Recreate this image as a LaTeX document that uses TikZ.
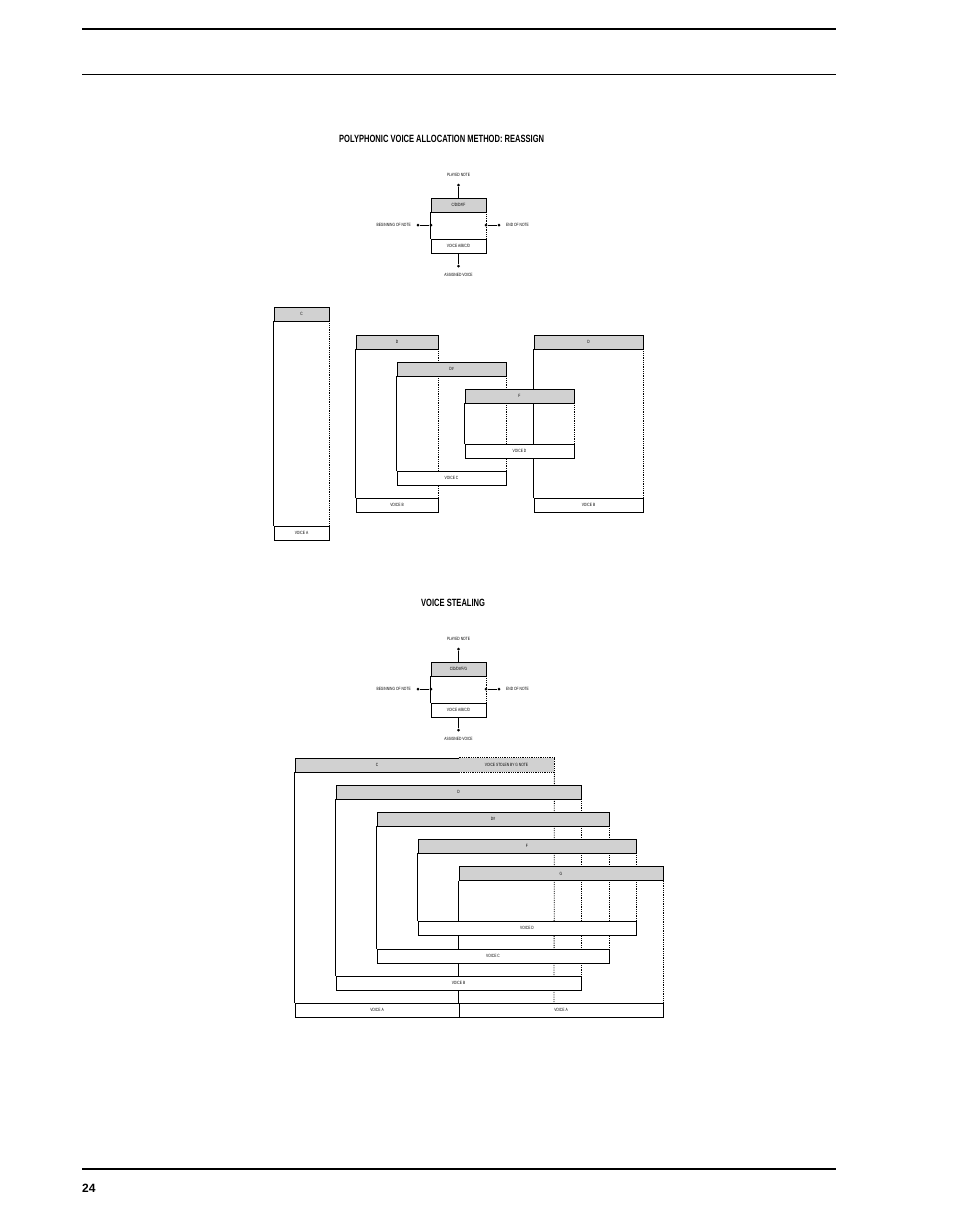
\documentclass[tikz,border=0pt]{standalone}
\usepackage{fontspec}
\setmainfont{Liberation Sans}
\newfontfamily\cond[FakeStretch=0.72]{Liberation Sans}
\usetikzlibrary{backgrounds}
\tikzset{
 hdr/.style={draw,line width=0.8pt,fill=black!18,inner sep=0pt,minimum height=14pt,font=\cond\fontsize{4.6}{5}\selectfont},
 ftr/.style={draw,line width=0.8pt,fill=white,inner sep=0pt,minimum height=14pt,font=\cond\fontsize{4.6}{5}\selectfont},
 lbl/.style={inner sep=0pt,font=\cond\fontsize{4.6}{5}\selectfont},
 solidln/.style={line width=0.8pt},
 dotln/.style={line width=0.8pt,densely dotted},
 dot/.style={circle,fill=black,inner sep=0pt,minimum size=3pt},
 ttl/.style={inner sep=0pt,font=\cond\bfseries\fontsize{10.5}{12}\selectfont}
}
\newcommand\nbx[7]{%
 \pgfmathsetmacro\bw{#3-#2}\pgfmathsetmacro\bcx{(#2+#3)/2}%
 \node[hdr,minimum width=\bw pt] (#1H) at (\bcx,#4+7) {#6};
 \node[ftr,minimum width=\bw pt] (#1F) at (\bcx,#5+7) {#7};
 \begin{scope}[on background layer]
 \draw[solidln] (#1H.south west) -- (#1F.north west);
 \draw[dotln] (#1H.south east) -- (#1F.north east);
 \end{scope}}
\newcommand\legendbox[3]{% name, top y, header text
 \node[hdr,minimum width=55pt] (#1H) at (458.5,#2+7) {#3};
 \node[ftr,minimum width=55pt] (#1F) at (458.5,#2+48) {VOICE A/B/C/D};
 \begin{scope}[on background layer]
 \draw[solidln] (#1H.south west) -- (#1F.north west);
 \draw[dotln] (#1H.south east) -- (#1F.north east);
 \end{scope}
 \node[dot] (#1l1) at (431,#2+27) {};
 \node[dot] (#1l2) at (418,#2+27) {};
 \node[dot] (#1r1) at (486,#2+27) {};
 \node[dot] (#1r2) at (499,#2+27) {};
 \node[dot] (#1t) at (458.5,#2-13) {};
 \node[dot] (#1b) at (458.5,#2+68) {};
 \draw[solidln] (#1l1) -- (#1l2);
 \draw[solidln] (#1r1) -- (#1r2);
 \draw[solidln] (#1H.north) -- (#1t);
 \draw[solidln] (#1F.south) -- (#1b);
 \node[lbl,anchor=east] (#1bl) at (411,#2+27) {BEGINNING OF NOTE};
 \node[lbl,anchor=west] (#1el) at (506,#2+27) {END OF NOTE};
 \node[lbl] (#1pl) at (458.5,#2-23) {PLAYED NOTE};
 \node[lbl] (#1al) at (458.5,#2+77) {ASSIGNED VOICE};
}
\begin{document}
\begin{tikzpicture}[x=1pt,y=-1pt]
\useasboundingbox (0,0) rectangle (954,1227);
\draw[line width=1.5pt] (82,29) -- (836,29);
\draw[line width=0.7pt] (82,74) -- (836,74);
\draw[line width=1.5pt] (82,1169) -- (836,1169);
\node[inner sep=0pt,anchor=west,font=\bfseries\fontsize{12}{14}\selectfont] (pg) at (82,1188) {24};

\node[ttl,anchor=west] (t1) at (339,139) {POLYPHONIC VOICE ALLOCATION METHOD: REASSIGN};
\legendbox{L1}{198}{C/D/D\#/F}
\nbx{c}{274}{329}{307}{526}{C}{VOICE A}
\nbx{da}{356}{438}{335}{498}{D}{VOICE B}
\nbx{db}{534}{643}{335}{498}{D}{VOICE B}
\nbx{ds}{397}{506}{362}{471}{D\#}{VOICE C}
\nbx{f}{465}{574}{389}{444}{F}{VOICE D}

\node[ttl,anchor=west] (t2) at (421,603) {VOICE STEALING};
\legendbox{L2}{662}{C/D/D\#/F/G}
% C with stolen part
\node[hdr,minimum width=164pt] (CH) at (377,765) {C};
\node[hdr,draw=none,minimum width=95pt] (SH) at (506.5,765) {VOICE STOLEN BY G NOTE};
\draw[dotln] (SH.north west) -- (SH.north east) -- (SH.south east) -- (SH.south west);
\node[ftr,minimum width=164pt] (CF) at (377,1010) {VOICE A};
\node[ftr,minimum width=204pt] (GF) at (561,1010) {VOICE A};
\coordinate (cend) at (554,1003);
\begin{scope}[on background layer]
\draw[solidln] (CH.south west) -- (CF.north west);
\draw[dotln] (SH.south east) -- (cend);
\end{scope}
\nbx{D}{336}{581}{785}{976}{D}{VOICE B}
\nbx{Ds}{377}{609}{812}{949}{D\#}{VOICE C}
\nbx{F}{418}{636}{839}{921}{F}{VOICE D}
\node[hdr,minimum width=204pt] (GH) at (561,873.5) {G};
\begin{scope}[on background layer]
\draw[solidln] (GH.south west) -- (GF.north west);
\draw[dotln] (GH.south east) -- (GF.north east);
\end{scope}
\end{tikzpicture}
\end{document}
